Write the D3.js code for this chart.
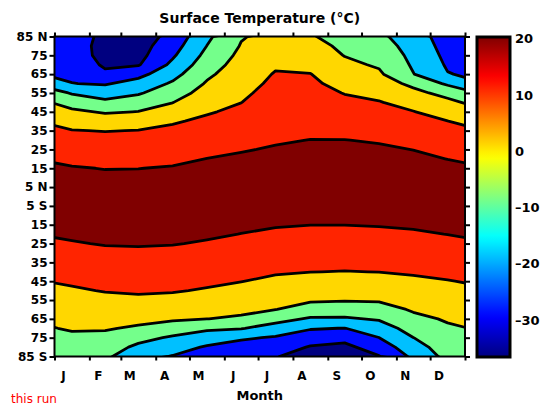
<!DOCTYPE html>
<html><head><meta charset="utf-8">
<script src="https://cdn.jsdelivr.net/npm/d3@7"></script>
<style>body{margin:0;background:#fff;} svg{display:block;}</style>
</head><body><svg id="chart" width="544" height="407"></svg>
<script>
// ---------------- data ----------------
const monthLabels = ["J","F","M","A","M","J","J","A","S","O","N","D"];
const monthStartDays = [0,31,59,90,120,151,181,212,243,273,304,334,365];
const monthMidDays = [15.5,45,74.5,105,135.5,166,196.5,227.5,258,288.5,319,349.5];
const latitudes = [85,80,75,70,65,60,55,50,45,40,35,30,25,20,15,10,5,0,-5,-10,-15,-20,-25,-30,-35,-40,-45,-50,-55,-60,-65,-70,-75,-80,-85];
const latTickValues = [85,75,65,55,45,35,25,15,5,-5,-15,-25,-35,-45,-55,-65,-75,-85];
const latTickLabels = ["85 N","75","65","55","45","35","25","15","5 N","5 S","15","25","35","45","55","65","75","85 S"];
const contourLevels = [-30,-20,-10,0,10,20];
const colorbarTicks = [20,10,0,-10,-20,-30];
// zonal-mean surface temperature (°C), one array per month, rows 85N -> 85S
const tJan = [-27,-26.5,-26,-24.5,-22,-19.8,-10.8,-3.9,1.8,6.1,10.3,12.9,15.6,18.2,20.5,22.0,23.5,25.0,25.6,24.1,22.6,21.1,19.5,17.4,15.3,13.2,11.1,9.0,6.9,4.9,2.9,0.8,-1.6,-4.3,-7];
const tFeb = [-31.5,-32.5,-32.5,-31.2,-28.5,-20.9,-14.6,-7.9,-0.9,4.5,9.7,12.3,14.8,17.3,19.8,21.3,22.8,24.3,25.7,24.8,23.4,21.9,20.4,18.5,16.5,14.4,12.4,10.4,8.0,5.6,3.2,0.7,-2.1,-5.0,-8];
const tMar = [-35,-34,-33,-30.8,-23.0,-16.3,-11.0,-5.5,0.2,5.4,10.2,12.7,15.1,17.6,19.9,21.4,22.9,24.3,25.7,24.9,23.4,22.0,20.6,18.8,16.9,14.9,12.9,11.0,8.5,5.4,2.4,-1.2,-6.8,-12.1,-17];
const tApr = [-27,-24.2,-21.4,-17.8,-13.3,-8.8,-4.5,-0.2,4.4,9.1,11.8,14.1,16.3,18.6,20.5,21.9,23.3,24.7,25.9,24.5,23.1,21.7,20.3,18.4,16.5,14.5,12.6,10.6,7.8,4.5,1.3,-4.5,-11.3,-15.9,-20.5];
const tMay = [-12,-9.9,-7.3,-4.5,-1.8,0.9,3.7,6.5,9.2,11.6,13.7,15.9,18.1,20.1,21.4,22.6,23.9,25.1,24.6,23.4,22.1,20.9,19.4,17.4,15.4,13.5,11.5,9.3,6.2,3.1,0.1,-8.3,-15,-21,-26];
const tJun = [-0.7,0.6,2.2,3.7,5.3,6.8,8.4,9.9,11.9,13.8,15.7,17.6,19.6,20.9,22.0,23.2,24.3,24.5,23.4,22.2,21.1,19.9,18.0,16.0,14.1,12.1,10.2,7.5,4.9,2.2,-1.5,-9.5,-18.7,-23.7,-28];
const tJul = [3,5.0,7.0,8.9,10.6,11.8,13.1,14.3,15.6,16.9,18.1,19.4,20.5,21.5,22.5,23.5,24.5,23.5,22.5,21.5,20.5,18.9,16.9,14.9,12.8,10.8,8.4,5.7,2.9,0.2,-6.7,-14.1,-20.9,-25.2,-29.5];
const tAug = [0.8,3.2,5.6,8.0,10.2,11.6,13.0,14.5,15.9,17.3,18.7,20.1,21.0,22.0,23.0,24.0,24.0,23.0,22.0,21.1,20.1,18.1,16.1,14.1,12.1,10.1,7.1,4.1,1.2,-4.1,-11.1,-19.2,-25.3,-30.7,-34];
const tSep = [-3.5,-1.9,-0.3,2.1,4.6,7.2,9.7,11.9,13.9,16.0,18.1,20.1,21.1,22.0,23.0,24.0,24.0,23.0,22.1,21.1,20.1,18.1,16.1,14.0,11.9,9.8,6.7,3.7,0.6,-4.8,-11.1,-20.2,-27.1,-32.3,-36];
const tOct = [-8,-5.7,-3.4,-1.1,1.5,4.6,7.6,10.5,12.7,15.0,17.2,19.5,20.8,21.9,23.0,24.1,24.8,23.7,22.6,21.5,20.4,18.5,16.4,14.3,12.1,10.1,6.9,3.9,0.9,-3.8,-9.1,-14.6,-20.1,-25.4,-30.5];
const tNov = [-15,-13.7,-12.4,-11.2,-9.7,-2.3,2.7,6.6,10.3,12.7,15.1,17.6,19.9,21.3,22.6,23.8,25.1,24.6,23.3,22.0,20.8,19.2,17.1,15.0,13.0,10.9,8.5,6.0,3.5,1.0,-2.3,-6.2,-10.1,-14,-18];
const tDec = [-25,-23.7,-22.4,-21.1,-19.6,-11.5,-3.2,2.5,6.3,10.1,12.6,15.0,17.5,19.9,21.4,22.8,24.1,25.5,24.2,22.8,21.5,20.1,18.1,16.0,13.9,11.8,9.7,7.5,5.3,3.1,0.9,-1.2,-3.1,-5.1,-7];

// ---------------- layout ----------------
const svg = d3.select("#chart");
const plot = {left:54.5, right:465, top:36.5, bottom:356.5};
const cb = {left:477, right:510, top:37, bottom:357};
const FONT = "'DejaVu Sans', sans-serif";

const x = d3.scaleLinear().domain([0,365]).range([plot.left, plot.right]);
const y = d3.scaleLinear().domain([85,-85]).range([plot.top, plot.bottom]);

const cbDomain = [-36.6, 20.3];
function jet(t){
  t = Math.max(0, Math.min(1, t));
  const c = v => Math.max(0, Math.min(1, v));
  const r = c(Math.min(4*t-1.5, -4*t+4.5));
  const g = c(Math.min(4*t-0.5, -4*t+3.5));
  const b = c(Math.min(4*t+0.5, -4*t+2.5));
  return d3.rgb(r*255, g*255, b*255).formatHex();
}
const color = d3.scaleSequential(jet).domain(cbDomain);
const bandColor = lvl => color(lvl + 1.2);

// grid with cyclic wrap columns
const series = [tJan,tFeb,tMar,tApr,tMay,tJun,tJul,tAug,tSep,tOct,tNov,tDec];
const cols = [series[11], ...series, series[0]];
const colDays = [monthMidDays[11]-365, ...monthMidDays, monthMidDays[0]+365];
const nx = cols.length, ny = latitudes.length;
const values = new Array(nx*ny);
for (let j=0;j<ny;j++) for (let i=0;i<nx;i++) values[j*nx+i] = cols[i][j];

const idxToDay = d3.scaleLinear().domain(d3.range(nx)).range(colDays);
const idxToLat = d3.scaleLinear().domain(d3.range(ny)).range(latitudes);
const proj = d3.geoTransform({point(px,py){
  this.stream.point(x(idxToDay(px-0.5)), y(idxToLat(py-0.5)));
}});
const path = d3.geoPath(proj);
const contours = d3.contours().size([nx,ny]).smooth(true).thresholds(contourLevels)(values);

const defs = svg.append("defs");
defs.append("clipPath").attr("id","plotclip").append("rect")
  .attr("x",plot.left).attr("y",plot.top)
  .attr("width",plot.right-plot.left).attr("height",plot.bottom-plot.top);

const g = svg.append("g").attr("clip-path","url(#plotclip)");
g.append("rect").attr("x",plot.left).attr("y",plot.top)
  .attr("width",plot.right-plot.left).attr("height",plot.bottom-plot.top)
  .attr("fill", color(cbDomain[0]));
g.selectAll("path.band").data(contours).join("path")
  .attr("class","band").attr("d", path).attr("fill", d => bandColor(d.value)).attr("stroke","none");
g.selectAll("path.iso").data(contours).join("path")
  .attr("class","iso").attr("d", path).attr("fill","none")
  .attr("stroke","#000").attr("stroke-width",2.8).attr("stroke-linejoin","round");

// frame
svg.append("rect").attr("x",plot.left).attr("y",plot.top)
  .attr("width",plot.right-plot.left).attr("height",plot.bottom-plot.top)
  .attr("fill","none").attr("stroke","#000").attr("stroke-width",2);

// axes
function styleAxis(sel){
  sel.select(".domain").remove();
  sel.selectAll(".tick line").attr("stroke","#000").attr("stroke-width",2);
  sel.selectAll("text").attr("font-family",FONT).attr("font-weight","bold")
    .attr("font-size",12).attr("fill","#000");
}
svg.append("g").attr("transform",`translate(${plot.left},0)`)
  .call(d3.axisLeft(y).tickValues(latTickValues).tickFormat((d,i)=>latTickLabels[i]).tickSize(5).tickPadding(2))
  .call(styleAxis);
svg.append("g").attr("transform",`translate(${plot.right},0)`)
  .call(d3.axisRight(y).tickValues(latTickValues).tickFormat("").tickSize(5))
  .call(styleAxis);
svg.append("g").attr("transform",`translate(0,${plot.top})`)
  .call(d3.axisTop(x).tickValues(monthStartDays).tickFormat("").tickSize(4))
  .call(styleAxis);
svg.append("g").attr("transform",`translate(0,${plot.bottom})`)
  .call(d3.axisBottom(x).tickValues(monthStartDays).tickFormat("").tickSize(4))
  .call(styleAxis);
svg.append("g").attr("transform",`translate(0,${plot.bottom})`)
  .call(d3.axisBottom(x).tickValues(monthStartDays.slice(0,12).map(d=>d+7.5))
    .tickFormat((d,i)=>monthLabels[i]).tickSize(0).tickPadding(15))
  .call(styleAxis);

// titles
svg.append("text").attr("x",(plot.left+plot.right)/2).attr("y",23)
  .attr("text-anchor","middle").attr("font-family",FONT).attr("font-weight","bold")
  .attr("font-size",14).text("Surface Temperature (°C)");
svg.append("text").attr("x",(plot.left+plot.right)/2).attr("y",400)
  .attr("text-anchor","middle").attr("font-family",FONT).attr("font-weight","bold")
  .attr("font-size",13).text("Month");
svg.append("text").attr("x",11).attr("y",403)
  .attr("font-family",FONT).attr("font-size",12).attr("fill","#ff0000").text("this run");

// colorbar
const yCb = d3.scaleLinear().domain(cbDomain).range([cb.bottom, cb.top]);
const grad = defs.append("linearGradient").attr("id","cbgrad")
  .attr("x1",0).attr("y1",1).attr("x2",0).attr("y2",0);
d3.range(0,1.0001,0.02).forEach(t=>{
  grad.append("stop").attr("offset",t).attr("stop-color", color(cbDomain[0]+t*(cbDomain[1]-cbDomain[0])));
});
svg.append("rect").attr("x",cb.left).attr("y",cb.top)
  .attr("width",cb.right-cb.left).attr("height",cb.bottom-cb.top)
  .attr("fill","url(#cbgrad)").attr("stroke","#000").attr("stroke-width",3);
svg.append("g").attr("transform",`translate(${cb.right},0)`)
  .call(d3.axisRight(yCb).tickValues(colorbarTicks)
    .tickFormat(d => d<0 ? "\u2013"+Math.abs(d) : String(d)).tickSize(0).tickPadding(5))
  .call(styleAxis)
  .call(s=>s.selectAll("text").attr("font-size",13));
</script></body></html>
